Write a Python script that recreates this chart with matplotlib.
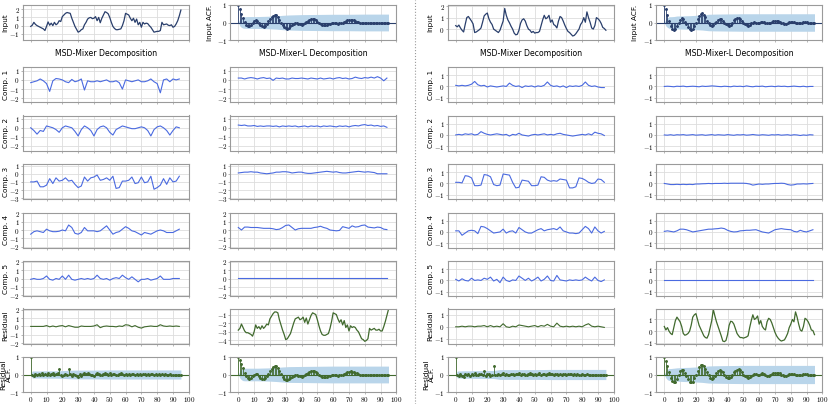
import numpy as np
import matplotlib
matplotlib.use("Agg")
import matplotlib.pyplot as plt
from matplotlib.lines import Line2D
from matplotlib.ticker import MultipleLocator, FuncFormatter

plt.rcParams["font.family"] = ["DejaVu Sans"]
plt.rcParams["mathtext.fontset"] = "cm"

# ---------------------------------------------------------------- data
steps = np.arange(96)          # time index / ACF lag
half_steps = np.arange(0, 96, 2)
band_lags = [0, 1, 2, 3, 4, 6, 8, 12, 16, 20, 24, 28, 32, 40, 50, 60, 70, 80, 95]

# left example (A)
input_a = [-0.10, 0.05, 0.40, 0.15, 0.00, -0.10, -0.20, -0.30, -0.40, -0.60,
           -0.10, 0.45, 0.05, 0.30, 0.00, 0.40, 0.10, 0.25, 0.60, 0.50,
           1.10, 1.30, 1.50, 1.60, 1.55, 1.50, 0.90, 0.40, -0.10, -0.45,
           -0.80, -0.70, -0.50, -0.40, 0.10, 0.40, 0.80, 0.95, 1.00, 0.85,
           0.90, 1.10, 0.60, 1.00, 0.35, 0.90, 1.30, 1.70, 1.60, 1.45,
           1.00, 0.40, -0.10, -0.35, -0.50, -0.50, -0.45, -0.40, 0.00, 0.60,
           1.50, 1.40, 1.30, 0.90, 0.60, 0.90, 0.40, 0.80, 0.10, 0.40,
           -0.20, 0.40, 0.20, 0.30, 0.25, 0.00, -0.20, -0.50, -0.80, -0.75,
           -0.70, -0.70, -0.60, 0.40, 0.10, 0.15, 0.20, 0.05, 0.00, 0.10,
           -0.20, -0.10, 0.20, 0.60, 1.20, 1.90]
acf_input_a = [1.0, 0.75, 0.5, 0.25, 0.05, -0.12, -0.2, -0.2, -0.12, 0.0,
               0.08, 0.12, 0.08, -0.02, -0.12, -0.22, -0.25, -0.2, -0.08, 0.08,
               0.2, 0.3, 0.4, 0.45, 0.45, 0.3, 0.15, -0.02, -0.15, -0.25,
               -0.32, -0.35, -0.3, -0.22, -0.15, -0.1, -0.05, -0.03, -0.06, -0.1,
               -0.12, -0.1, -0.05, 0.02, 0.08, 0.14, 0.18, 0.2, 0.18, 0.12,
               0.05, -0.02, -0.08, -0.12, -0.15, -0.15, -0.13, -0.1, -0.06, -0.03,
               -0.02, -0.03, -0.05, -0.06, -0.05, -0.03, 0.0, 0.04, 0.08, 0.12,
               0.15, 0.16, 0.15, 0.12, 0.09, 0.05, 0.02, -0.01, -0.03, -0.04,
               -0.05, -0.05, -0.04, -0.03, -0.03, -0.03, -0.02, -0.02, -0.02, -0.01,
               -0.01, 0.0, 0.0, 0.0, 0.0, 0.0]
band_input_a = [0, 0.2, 0.28, 0.32, 0.33, 0.34, 0.34, 0.34, 0.35, 0.36,
                0.38, 0.41, 0.43, 0.45, 0.46, 0.47, 0.47, 0.48, 0.48]

a_mix_c1 = [-0.3, -0.2, -0.1, 0.1, -0.1, -0.4, -1.25, -0.1, 0.15, 0.1,
            0.0, -0.2, -0.3, 0.05, -0.2, -0.1, 0.1, -1.1, -0.1, -0.2,
            -0.2, -0.1, -0.2, -0.1, 0.0, -0.2, -0.2, -0.1, -0.3, -1.0,
            0.0, -0.1, -0.2, -0.1, 0.0, -0.2, -0.2, -0.1, 0.1, -0.2,
            -0.4, -1.4, 0.0, 0.1, -0.2, 0.1, 0.0, 0.1]
a_mix_c2 = [0.0, -0.3, -0.7, -0.3, -0.4, 0.2, 0.1, 0.0, -0.2, -0.5,
            0.0, 0.2, 0.1, 0.0, -0.4, -0.9, -0.2, 0.2, 0.0, -0.3,
            -0.9, -0.2, 0.1, 0.2, 0.0, -0.5, -0.8, -0.2, 0.0, 0.2,
            0.1, 0.0, -0.1, -0.1, 0.0, 0.1, 0.0, -0.3, -0.9, -0.2,
            0.1, 0.2, 0.0, -0.3, -0.8, -0.3, 0.1, 0.0]
a_mix_c3 = [-1.0, -1.0, -0.9, -1.6, -1.6, -1.4, -0.6, -1.2, -0.5, -0.9,
            -0.8, -0.5, -0.9, -0.8, -1.3, -1.7, -1.5, -0.4, -0.9, -0.5,
            -0.4, -0.15, -0.8, -0.7, -0.5, -0.8, -0.3, -1.8, -1.7, -0.9,
            -0.9, -0.8, -0.4, -1.2, -1.1, -0.4, -1.1, -1.0, -0.3, -1.9,
            -1.7, -1.4, -0.6, -1.3, -0.5, -1.0, -0.9, -0.3]
a_mix_c4 = [-0.5, -0.2, -0.1, -0.2, -0.3, 0.1, -0.1, -0.2, -0.2, -0.15,
            0.0, -0.1, 0.6, 0.3, -0.4, -0.5, -0.3, 0.3, -0.1, -0.1,
            -0.1, -0.2, -0.1, 0.2, 0.5, 0.0, -0.5, -0.3, -0.2, 0.1,
            0.4, 0.2, -0.1, -0.2, -0.4, -0.6, -0.3, -0.4, -0.5, -0.3,
            -0.1, 0.0, -0.1, -0.3, -0.3, -0.3, -0.1, 0.1]
a_mix_c5 = [-0.1, 0.0, -0.1, -0.1, 0.0, 0.3, -0.1, -0.2, 0.0, -0.1,
            0.3, -0.1, 0.4, -0.1, -0.2, -0.1, 0.0, -0.1, 0.0, -0.1,
            0.0, 0.4, 0.0, -0.1, 0.0, -0.2, 0.0, 0.1, 0.0, 0.4,
            0.1, -0.1, 0.2, -0.1, -0.4, -0.1, -0.1, 0.0, -0.2, -0.1,
            0.0, 0.3, -0.1, -0.1, -0.1, 0.0, 0.0, 0.0]
a_mix_res = [0.0, 0.0, 0.0, 0.0, 0.0, 0.1, -0.05, 0.05, -0.05, 0.05,
             0.1, -0.05, 0.1, 0.0, -0.1, -0.1, 0.05, 0.0, 0.0, 0.0,
             0.05, 0.2, -0.15, 0.0, 0.05, 0.0, 0.0, -0.05, 0.05, 0.0,
             0.2, 0.15, -0.05, 0.1, -0.1, -0.2, -0.05, 0.0, 0.05, 0.0,
             0.0, 0.2, 0.05, 0.0, 0.05, 0.0, 0.05, 0.0]
acf_a_mix_res = [1.0, -0.05, -0.08, 0.02, -0.05, 0.05, -0.03, 0.06, 0.0, 0.05,
                 -0.02, 0.08, 0.0, 0.03, 0.07, -0.05, 0.05, 0.08, 0.3, 0.0,
                 -0.1, -0.05, 0.05, -0.05, 0.3, 0.02, -0.08, 0.05, -0.05, -0.1,
                 -0.15, 0.03, -0.1, 0.05, 0.08, 0.05, 0.1, 0.05, 0.0, -0.02,
                 -0.08, 0.02, 0.1, 0.05, 0.0, -0.05, 0.03, 0.08, 0.05, 0.0,
                 0.1, -0.03, 0.02, 0.05, -0.02, 0.0, 0.05, 0.08, 0.02, -0.03,
                 0.03, 0.0, 0.05, -0.02, 0.02, 0.03, 0.0, 0.05, -0.02, 0.03,
                 0.0, 0.02, 0.04, 0.0, 0.02, -0.01, 0.02, 0.01, 0.0, 0.02,
                 0.0, 0.01, 0.0, 0.01, 0.0, 0.01, 0.0, 0.0, 0.01, 0.0,
                 0.0, 0.0, 0.0, 0.0, 0.0, 0.0]
band_a_mix_res = [0, 0.2, 0.2, 0.2, 0.2, 0.2, 0.21, 0.21, 0.21, 0.22,
                  0.24, 0.25, 0.25, 0.25, 0.26, 0.26, 0.26, 0.26, 0.26]

a_l_c1 = [0.2, 0.2, 0.1, 0.2, 0.25, 0.2, 0.1, 0.2, 0.25, 0.15,
          0.2, -0.05, 0.2, 0.15, 0.2, 0.1, 0.1, 0.2, 0.15, 0.15,
          0.2, 0.15, 0.1, 0.2, 0.15, 0.1, 0.2, 0.1, 0.15, 0.2,
          0.1, 0.2, 0.25, 0.15, 0.2, 0.1, 0.15, 0.3, 0.2, 0.15,
          0.25, 0.2, 0.3, 0.2, 0.35, 0.2, -0.1, 0.2]
a_l_c2 = [0.3, 0.25, 0.3, 0.2, 0.2, 0.25, 0.15, 0.2, 0.15, 0.2,
          0.2, 0.15, 0.2, 0.1, 0.2, 0.15, 0.2, 0.15, 0.2, 0.1,
          0.15, 0.2, 0.1, 0.2, 0.15, 0.2, 0.1, 0.2, 0.15, 0.2,
          0.15, 0.1, 0.2, 0.15, 0.2, 0.1, 0.2, 0.25, 0.2, 0.3,
          0.35, 0.25, 0.3, 0.2, 0.25, 0.15, 0.2, 0.05]
a_l_c3 = [0.1, 0.15, 0.2, 0.2, 0.25, 0.2, 0.2, 0.1, 0.05, 0.0,
          0.05, 0.1, 0.2, 0.2, 0.25, 0.25, 0.2, 0.1, 0.15, 0.2,
          0.2, 0.1, 0.05, 0.05, 0.1, 0.15, 0.2, 0.25, 0.3, 0.25,
          0.2, 0.25, 0.15, 0.1, 0.1, 0.15, 0.2, 0.25, 0.3, 0.25,
          0.2, 0.25, 0.2, 0.15, 0.0, 0.0, 0.0, 0.0]
a_l_c4 = [0.3, 0.0, 0.35, 0.35, 0.3, 0.3, 0.3, 0.25, 0.2, 0.2,
          0.2, 0.15, 0.05, 0.1, 0.3, 0.55, 0.6, 0.3, 0.0, 0.15,
          0.2, 0.2, 0.2, 0.2, 0.3, 0.35, 0.45, 0.3, 0.2, 0.0,
          -0.05, -0.1, -0.05, 0.4, 0.3, 0.2, 0.5, 0.35, 0.4, 0.55,
          0.6, 0.35, 0.3, 0.25, 0.35, 0.3, 0.1, 0.05]
a_l_c5 = [0.02, 0.02, 0.02, 0.02, 0.02, 0.02, 0.02, 0.02, 0.02, 0.02,
          0.02, 0.02, 0.02, 0.02, 0.02, 0.02, 0.02, 0.02, 0.02, 0.02,
          0.02, 0.02, 0.02, 0.02, 0.02, 0.02, 0.02, 0.02, 0.02, 0.02,
          0.02, 0.02, 0.02, 0.02, 0.02, 0.02, 0.02, 0.02, 0.02, 0.02,
          0.02, 0.02, 0.02, 0.02, 0.02, 0.02, 0.02, 0.02]
a_l_res = [-2.8, -2.6, -2.1, -2.5, -2.9, -3.1, -3.1, -3.2, -3.3, -3.5,
           -3.0, -2.2, -2.6, -2.4, -2.7, -2.3, -2.6, -2.4, -2.1, -2.2,
           -1.5, -1.2, -0.9, -0.7, -0.7, -0.8, -1.6, -2.2, -2.8, -3.3,
           -3.9, -3.8, -3.5, -3.2, -2.6, -2.0, -1.5, -1.4, -1.3, -1.6,
           -1.5, -1.3, -1.9, -1.4, -2.1, -1.6, -1.1, -0.8, -0.9, -1.0,
           -1.6, -2.3, -2.9, -3.3, -3.4, -3.4, -3.3, -3.2, -2.6, -1.8,
           -0.8, -0.9, -1.0, -1.5, -1.9, -1.6, -2.2, -1.7, -2.5, -2.2,
           -2.9, -2.3, -2.5, -2.4, -2.5, -2.8, -3.0, -3.4, -3.8, -3.9,
           -4.1, -4.0, -3.8, -2.6, -2.8, -2.7, -2.6, -2.8, -2.8, -2.7,
           -2.9, -2.9, -2.4, -1.8, -1.1, -0.4]
acf_a_l_res = [1.0, 0.82, 0.6, 0.35, 0.1, -0.1, -0.22, -0.25, -0.2, -0.1,
               0.0, 0.05, 0.02, -0.08, -0.18, -0.25, -0.28, -0.22, -0.1, 0.05,
               0.2, 0.32, 0.42, 0.48, 0.5, 0.38, 0.2, 0.02, -0.12, -0.24,
               -0.3, -0.32, -0.28, -0.2, -0.13, -0.08, -0.05, -0.04, -0.06, -0.1,
               -0.12, -0.1, -0.05, 0.02, 0.09, 0.15, 0.2, 0.22, 0.2, 0.14,
               0.06, -0.02, -0.08, -0.13, -0.16, -0.16, -0.14, -0.1, -0.06, -0.03,
               -0.02, -0.03, -0.05, -0.06, -0.05, -0.03, 0.0, 0.05, 0.1, 0.14,
               0.17, 0.18, 0.17, 0.14, 0.1, 0.06, 0.02, -0.01, -0.03, -0.04,
               -0.05, -0.05, -0.04, -0.04, -0.03, -0.03, -0.02, -0.02, -0.02, -0.01,
               -0.01, 0.0, 0.0, 0.0, 0.0, 0.0]
band_a_l_res = [0, 0.2, 0.3, 0.35, 0.36, 0.36, 0.36, 0.36, 0.37, 0.38,
                0.4, 0.43, 0.45, 0.46, 0.47, 0.48, 0.48, 0.48, 0.48]

# right example (B)
input_b = [0.30, 0.20, 0.35, 0.10, -0.10, -0.25, 0.40, 1.00, 1.10, 0.90,
           0.70, 0.45, -0.30, -0.25, -0.15, -0.05, 0.10, 0.60, 1.15, 1.30,
           1.40, 0.90, 0.60, 0.40, 0.00, -0.10, -0.20, -0.30, -0.10, 0.30,
           0.70, 1.80, 1.20, 0.80, 0.55, 0.25, 0.00, -0.35, -0.50, -0.45,
           -0.10, 0.50, 0.80, 0.90, 0.70, 0.30, 0.00, -0.10, -0.30, -0.20,
           -0.35, -0.30, -0.30, -0.20, 0.30, 0.80, 1.20, 0.90, 1.00, 1.20,
           0.60, 0.80, 0.40, 0.30, 0.10, 0.70, 1.10, 1.00, 0.70, 0.35,
           0.05, -0.20, -0.30, -0.45, -0.60, -0.55, -0.40, -0.20, 0.00, 0.40,
           0.60, 1.00, 0.60, 1.50, 1.00, 0.60, 0.10, 0.00, 0.30, 1.00,
           0.90, 0.75, 0.50, 0.15, 0.05, -0.10]
acf_input_b = [1.0, 0.75, 0.45, 0.1, -0.2, -0.35, -0.4, -0.35, -0.2, 0.0,
               0.15, 0.25, 0.2, 0.05, -0.1, -0.25, -0.35, -0.4, -0.35, -0.2,
               0.0, 0.2, 0.4, 0.5, 0.55, 0.45, 0.3, 0.1, -0.05, -0.15,
               -0.2, -0.15, -0.05, 0.05, 0.15, 0.2, 0.18, 0.1, 0.0, -0.1,
               -0.15, -0.18, -0.12, 0.0, 0.12, 0.2, 0.25, 0.28, 0.22, 0.1,
               -0.02, -0.1, -0.15, -0.18, -0.12, -0.05, 0.0, 0.02, 0.0, -0.03,
               -0.02, 0.02, 0.05, 0.03, -0.02, -0.05, -0.05, -0.02, 0.03, 0.06,
               0.08, 0.1, 0.1, 0.05, 0.0, -0.05, -0.08, -0.06, -0.02, 0.02,
               0.05, 0.05, 0.03, 0.0, -0.02, -0.03, -0.02, 0.0, 0.02, 0.02,
               0.01, 0.0, -0.01, 0.0, 0.0, 0.0]
band_input_b = [0, 0.2, 0.28, 0.33, 0.33, 0.34, 0.37, 0.38, 0.39, 0.41,
                0.43, 0.47, 0.48, 0.49, 0.5, 0.5, 0.5, 0.5, 0.5]

b_mix_c1 = [0.1, 0.05, 0.1, 0.05, 0.1, 0.2, 0.45, 0.15, 0.05, 0.1,
            -0.05, 0.05, 0.0, -0.05, 0.0, 0.05, 0.0, 0.3, 0.1, 0.0,
            0.05, -0.1, 0.05, 0.0, 0.05, -0.05, 0.05, 0.0, 0.1, 0.4,
            0.1, 0.0, 0.05, -0.05, 0.05, -0.1, 0.05, 0.0, 0.05, 0.0,
            0.1, 0.4, 0.1, 0.0, 0.05, -0.05, -0.1, -0.1]
b_mix_c2 = [0.0, 0.05, 0.0, 0.1, 0.05, 0.1, 0.0, 0.05, 0.3, 0.15,
            0.05, 0.0, 0.05, 0.1, 0.05, 0.0, 0.05, -0.1, 0.05, 0.0,
            0.15, 0.0, -0.05, -0.1, 0.0, 0.05, 0.0, 0.05, 0.1, 0.0,
            0.05, 0.0, 0.1, 0.15, 0.05, 0.0, -0.05, -0.1, -0.05, 0.0,
            0.05, 0.0, 0.1, 0.0, 0.25, 0.15, 0.1, -0.05]
b_mix_c3 = [0.1, 0.1, 0.05, 0.7, 0.65, 0.5, -0.2, -0.2, -0.15, 0.8,
            0.75, 0.6, -0.1, -0.2, -0.15, 0.85, 0.8, 0.75, 0.1, -0.4,
            -0.35, 0.3, 0.25, 0.2, -0.2, -0.2, -0.15, 0.6, 0.55, 0.3,
            0.2, 0.25, 0.2, 0.4, 0.35, 0.3, -0.4, -0.4, -0.3, 0.5,
            0.45, 0.3, 0.1, 0.0, 0.05, 0.4, 0.35, 0.1]
b_mix_c4 = [0.1, 0.1, -0.3, -0.1, 0.1, 0.15, 0.1, -0.15, 0.5, 0.45,
            0.3, 0.1, -0.1, -0.05, 0.0, 0.25, -0.1, 0.05, 0.1, -0.1,
            0.4, 0.2, 0.0, -0.1, -0.1, 0.05, 0.2, 0.3, 0.1, 0.2,
            0.25, 0.3, 0.2, 0.45, 0.1, 0.0, -0.1, -0.1, -0.15, -0.1,
            0.2, 0.5, 0.3, -0.1, 0.45, 0.1, -0.1, 0.05]
b_mix_c5 = [0.1, -0.05, 0.15, 0.0, -0.05, 0.2, 0.0, 0.05, 0.0, 0.2,
            0.1, 0.3, -0.05, 0.1, -0.2, 0.3, 0.0, -0.1, 0.05, 0.0,
            0.4, 0.2, 0.0, 0.2, -0.05, 0.1, 0.3, -0.05, 0.1, 0.4,
            0.0, -0.05, 0.45, 0.05, 0.0, -0.05, 0.05, 0.0, 0.05, 0.0,
            0.05, 0.3, 0.1, -0.05, 0.3, 0.0, -0.1, 0.05]
b_mix_res = [0.0, 0.0, 0.05, 0.0, 0.05, 0.05, 0.0, 0.05, 0.05, 0.1,
             0.0, 0.1, 0.0, 0.05, 0.0, 0.25, 0.0, -0.05, 0.05, 0.0,
             0.15, 0.1, 0.05, 0.0, 0.05, 0.1, 0.0, 0.1, 0.05, 0.2,
             0.05, 0.0, 0.3, 0.05, 0.0, 0.05, 0.0, 0.05, 0.0, 0.05,
             0.0, 0.15, 0.25, 0.05, 0.0, 0.05, 0.0, -0.05]
acf_b_mix_res = [1.0, -0.05, -0.1, 0.05, -0.08, -0.12, 0.03, -0.05, 0.05, -0.08,
                 0.05, -0.02, 0.08, 0.0, -0.05, 0.03, 0.05, 0.0, 0.2, -0.08,
                 0.02, 0.05, -0.1, 0.0, 0.5, 0.0, -0.05, 0.05, -0.03, 0.05,
                 0.08, -0.02, 0.05, 0.0, -0.05, 0.03, 0.05, 0.0, 0.03, 0.05,
                 0.1, -0.03, 0.02, 0.05, -0.05, 0.0, 0.05, 0.08, 0.02, -0.03,
                 0.03, 0.0, 0.05, 0.07, -0.02, 0.02, 0.03, 0.0, 0.05, 0.08,
                 0.02, 0.03, 0.0, 0.02, 0.04, 0.0, 0.02, -0.01, 0.02, 0.01,
                 0.0, 0.02, 0.05, 0.01, 0.0, 0.01, 0.0, 0.01, 0.0, 0.0,
                 0.01, 0.0, 0.0, 0.02, 0.0, 0.0, 0.0, 0.0, 0.0, 0.0,
                 0.0, 0.0, 0.0, 0.0, 0.0, 0.0]
band_b_mix_res = [0, 0.2, 0.2, 0.2, 0.21, 0.21, 0.21, 0.22, 0.22, 0.23,
                  0.23, 0.28, 0.28, 0.28, 0.28, 0.29, 0.29, 0.29, 0.29]

b_l_c1 = [0.0, 0.02, 0.0, -0.03, 0.02, 0.0, 0.03, -0.02, 0.0, 0.02,
          0.0, -0.03, 0.03, 0.0, 0.02, 0.05, 0.03, 0.0, -0.02, 0.02,
          0.0, -0.03, 0.03, 0.0, 0.02, -0.02, 0.05, 0.0, -0.03, 0.02,
          0.0, 0.03, -0.03, 0.0, 0.02, -0.02, 0.03, 0.0, 0.02, -0.02,
          0.0, 0.03, 0.0, -0.02, 0.02, -0.03, 0.0, 0.0]
b_l_c2 = [0.0, -0.02, 0.02, -0.03, 0.02, 0.0, 0.03, -0.02, 0.0, 0.03,
          -0.02, 0.0, 0.02, -0.03, 0.0, 0.03, -0.02, 0.02, 0.0, -0.02,
          0.03, 0.0, -0.03, 0.02, 0.0, 0.03, -0.02, 0.0, 0.04, 0.0,
          -0.02, 0.02, 0.0, -0.03, 0.02, 0.0, 0.03, -0.02, 0.0, 0.02,
          -0.03, 0.02, 0.0, -0.05, 0.0, -0.03, 0.02, 0.0]
b_l_c3 = [0.0, -0.05, -0.1, -0.1, -0.08, -0.1, -0.08, -0.1, -0.08, -0.1,
          -0.05, -0.05, -0.03, -0.02, 0.0, -0.02, 0.0, 0.0, 0.0, 0.02,
          0.0, 0.02, 0.02, 0.02, 0.02, 0.02, 0.0, -0.05, -0.15, -0.1,
          -0.05, -0.08, -0.05, -0.05, -0.02, 0.0, 0.0, 0.02, 0.0, -0.1,
          -0.15, -0.12, -0.05, -0.05, -0.03, -0.05, -0.02, 0.0]
b_l_c4 = [0.05, 0.1, 0.05, 0.0, 0.1, 0.25, 0.25, 0.2, 0.1, 0.0,
          0.05, 0.1, 0.15, 0.2, 0.25, 0.25, 0.28, 0.3, 0.35, 0.3,
          0.15, 0.05, 0.0, 0.02, 0.1, 0.12, 0.15, 0.15, 0.18, 0.2,
          0.1, 0.0, -0.05, -0.1, 0.05, 0.2, 0.25, 0.3, 0.25, 0.22,
          0.2, 0.05, 0.0, 0.15, 0.05, 0.0, 0.1, 0.2]
b_l_c5 = [0.03, 0.03, 0.03, 0.03, 0.03, 0.03, 0.03, 0.03, 0.03, 0.03,
          0.03, 0.03, 0.03, 0.03, 0.03, 0.03, 0.03, 0.03, 0.03, 0.03,
          0.03, 0.03, 0.03, 0.03, 0.03, 0.03, 0.03, 0.03, 0.03, 0.03,
          0.03, 0.03, 0.03, 0.03, 0.03, 0.03, 0.03, 0.03, 0.03, 0.03,
          0.03, 0.03, 0.03, 0.03, 0.03, 0.03, 0.03, 0.03]
b_l_res = [0.40, 0.10, 0.30, 0.00, -0.20, -0.30, 0.30, 0.90, 1.20, 1.00,
           0.80, 0.40, -0.20, -0.35, -0.30, -0.20, 0.00, 0.50, 1.20, 1.40,
           1.50, 1.00, 0.50, 0.20, -0.10, -0.40, -0.55, -0.60, -0.30, 0.30,
           0.90, 1.85, 1.30, 0.80, 0.40, 0.00, -0.40, -0.85, -0.90, -0.80,
           -0.30, 0.50, 0.85, 0.80, 0.60, 0.20, -0.20, -0.40, -0.55, -0.55,
           -0.60, -0.55, -0.50, -0.40, 0.30, 0.90, 1.40, 1.00, 1.10, 1.30,
           0.60, 0.90, 0.40, 0.20, 0.10, 0.80, 1.10, 1.00, 0.70, 0.30,
           -0.10, -0.40, -0.60, -0.75, -0.85, -0.80, -0.75, -0.50, -0.20, 0.30,
           0.60, 1.00, 0.80, 1.65, 1.20, 0.60, 0.10, 0.00, 0.40, 1.10,
           1.00, 0.80, 0.50, 0.10, 0.05, -0.30]
acf_b_l_res = [1.0, 0.8, 0.5, 0.12, -0.2, -0.38, -0.45, -0.4, -0.25, -0.02,
               0.18, 0.28, 0.25, 0.08, -0.1, -0.28, -0.4, -0.45, -0.4, -0.22,
               0.0, 0.22, 0.42, 0.52, 0.56, 0.48, 0.32, 0.12, -0.05, -0.18,
               -0.24, -0.18, -0.06, 0.06, 0.18, 0.24, 0.2, 0.12, 0.0, -0.12,
               -0.18, -0.2, -0.14, 0.0, 0.14, 0.22, 0.27, 0.3, 0.24, 0.12,
               0.0, -0.1, -0.16, -0.2, -0.14, -0.06, 0.0, 0.03, 0.01, -0.03,
               -0.02, 0.02, 0.06, 0.04, -0.02, -0.06, -0.06, -0.02, 0.04, 0.07,
               0.09, 0.11, 0.11, 0.06, 0.0, -0.05, -0.08, -0.06, -0.02, 0.02,
               0.05, 0.05, 0.03, 0.0, -0.02, -0.03, -0.02, 0.0, 0.02, 0.02,
               0.01, 0.0, -0.01, 0.0, 0.0, 0.0]
band_b_l_res = [0, 0.2, 0.3, 0.34, 0.34, 0.36, 0.38, 0.4, 0.41, 0.43,
                0.45, 0.49, 0.5, 0.51, 0.52, 0.52, 0.52, 0.52, 0.52]

# ---------------------------------------------------------------- style
NAVY = "#2a3f6c"
BLUE = "#4a6ae0"
GREEN = "#416a2e"
BAND = "#b9d5ea"
GRID = "#dddddd"
SPINE = "#9a9a9a"

W, H = 830, 404
COL_LEFT = [22.8, 230.4, 447.8, 656.4]
COL_W = 166
ROW_TOP = [5, 67, 115.5, 164, 212.5, 261, 308.5, 357]
ROW_H = 35
# x position (axes fraction) of the right edge of the y labels
LABEL_X = [-0.085, -0.105, -0.085, -0.11]
LABEL_X2 = [-0.064, -0.105, -0.078, -0.11]   # two-line labels

LIMS_A = [(-1.76, 2.52), (-2.4, 1.4), (-2.5, 1.35), (-3.1, 1.2),
          (-2.1, 2.1), (-2.1, 2.1)]
LIMS_B = [(-0.95, 2.1)] + [(-1.4, 1.75)] * 5
RES_LIMS = {"a_mix": (-2.05, 2.15), "a_l": (-4.35, -0.3),
            "b_mix": (-1.37, 1.5), "b_l": (-1.06, 1.94)}

tex_num = FuncFormatter(lambda v, pos: f"${int(round(v))}$")


def new_axes(fig, col, row):
    rect = [COL_LEFT[col] / W, 1 - (ROW_TOP[row] + ROW_H) / H,
            COL_W / W, ROW_H / H]
    ax = fig.add_axes(rect)
    ax.col = col
    return ax


def style(ax, ylim, label=None, bottom=False):
    ax.set_xlim(-5, 100)
    ax.set_ylim(*ylim)
    ax.xaxis.set_major_locator(MultipleLocator(10))
    ax.yaxis.set_major_locator(MultipleLocator(1))
    ax.xaxis.set_major_formatter(tex_num)
    ax.yaxis.set_major_formatter(tex_num)
    ax.grid(True, color=GRID, lw=0.6)
    ax.set_axisbelow(True)
    for sp in ax.spines.values():
        sp.set_color(SPINE)
        sp.set_linewidth(0.8)
    ax.tick_params(length=1.6, width=0.5, color=SPINE, labelsize=5.1, pad=0.6)
    ax.tick_params(axis="x", pad=0.4)
    ax.tick_params(labelbottom=bottom)
    if label:
        two = "\n" in label
        ax.set_ylabel(label, fontsize=5.2, linespacing=0.9)
        xs = LABEL_X2 if two else LABEL_X
        ax.yaxis.set_label_coords(xs[ax.col], 0.5)


def draw_acf(ax, acf, band, color):
    band = np.asarray(band)
    ax.fill_between(band_lags, -band, band, color=BAND, lw=0)
    ax.vlines(steps, 0, acf, color=color, lw=0.6)
    ax.plot(steps, acf, "o", ms=1.1, color=color)
    ax.axhline(0, color=color, lw=0.8)


fig = plt.figure(figsize=(W / 100, H / 100), dpi=100)

sides = [
    dict(col=0, inp=input_a, acf=acf_input_a, band=band_input_a, lims=LIMS_A,
         mix=[a_mix_c1, a_mix_c2, a_mix_c3, a_mix_c4, a_mix_c5],
         lmod=[a_l_c1, a_l_c2, a_l_c3, a_l_c4, a_l_c5],
         mix_res=a_mix_res, l_res=a_l_res, res_key="a",
         mix_acf=acf_a_mix_res, mix_band=band_a_mix_res,
         l_acf=acf_a_l_res, l_band=band_a_l_res),
    dict(col=2, inp=input_b, acf=acf_input_b, band=band_input_b, lims=LIMS_B,
         mix=[b_mix_c1, b_mix_c2, b_mix_c3, b_mix_c4, b_mix_c5],
         lmod=[b_l_c1, b_l_c2, b_l_c3, b_l_c4, b_l_c5],
         mix_res=b_mix_res, l_res=b_l_res, res_key="b",
         mix_acf=acf_b_mix_res, mix_band=band_b_mix_res,
         l_acf=acf_b_l_res, l_band=band_b_l_res),
]

for s in sides:
    c = s["col"]
    # input and its ACF
    ax = new_axes(fig, c, 0)
    ax.plot(steps, s["inp"], color=NAVY, lw=0.9)
    style(ax, s["lims"][0], "Input")
    ax = new_axes(fig, c + 1, 0)
    draw_acf(ax, s["acf"], s["band"], NAVY)
    style(ax, (-1, 1), "Input ACF.")

    # components
    for k in range(5):
        ax = new_axes(fig, c, k + 1)
        ax.plot(half_steps, s["mix"][k], color=BLUE, lw=0.8)
        style(ax, s["lims"][k + 1], f"Comp. {k + 1}")
        ax = new_axes(fig, c + 1, k + 1)
        ax.plot(half_steps, s["lmod"][k], color=BLUE, lw=0.8)
        style(ax, s["lims"][k + 1])

    # residuals
    ax = new_axes(fig, c, 6)
    ax.plot(half_steps, s["mix_res"], color=GREEN, lw=0.8)
    style(ax, RES_LIMS[s["res_key"] + "_mix"], "Residual")
    ax = new_axes(fig, c + 1, 6)
    ax.plot(steps, s["l_res"], color=GREEN, lw=0.9)
    style(ax, RES_LIMS[s["res_key"] + "_l"])

    # residual ACF
    ax = new_axes(fig, c, 7)
    draw_acf(ax, s["mix_acf"], s["mix_band"], GREEN)
    style(ax, (-1, 1), "Residual\nACF.", bottom=True)
    ax = new_axes(fig, c + 1, 7)
    draw_acf(ax, s["l_acf"], s["l_band"], GREEN)
    style(ax, (-1, 1), bottom=True)

    # section titles
    for j, title in enumerate(["MSD-Mixer Decomposition",
                               "MSD-Mixer-L Decomposition"]):
        cx = (COL_LEFT[c + j] + COL_W / 2) / W
        fig.text(cx, 1 - 53 / H, title, ha="center", va="center", fontsize=5.6)

fig.add_artist(Line2D([415 / W, 415 / W], [0, 1], transform=fig.transFigure,
                      color="#9a9a9a", lw=0.8, ls=":"))

fig.savefig("out.png", dpi=100)
